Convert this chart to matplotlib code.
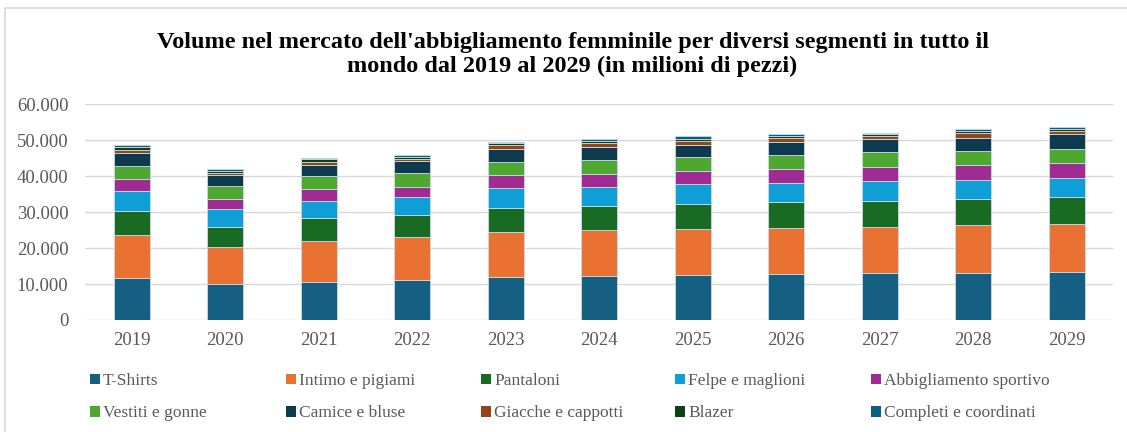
import matplotlib
matplotlib.use('Agg')
import matplotlib.pyplot as plt
import numpy as np
from matplotlib.patches import Rectangle, Patch
from matplotlib.ticker import FuncFormatter

matplotlib.rcParams['font.family'] = ['Liberation Serif', 'DejaVu Serif']

anni = ['2019', '2020', '2021', '2022', '2023', '2024', '2025', '2026', '2027', '2028', '2029']

segmenti = ['T-Shirts', 'Intimo e pigiami', 'Pantaloni', 'Felpe e maglioni', 'Abbigliamento sportivo',
            'Vestiti e gonne', 'Camice e bluse', 'Giacche e cappotti', 'Blazer', 'Completi e coordinati']

# valori in migliaia di pezzi (milioni / 1000 sull'asse)
t_shirts = [11600, 9900, 10500, 11000, 11850, 12100, 12500, 12800, 13050, 13050, 13300]
intimo = [12000, 10300, 11400, 12100, 12500, 12900, 12800, 12800, 12750, 13350, 13500]
pantaloni = [6800, 5700, 6500, 6100, 6850, 6800, 7000, 7100, 7400, 7100, 7300]
felpe = [5400, 4900, 4700, 4900, 5400, 5300, 5400, 5400, 5400, 5400, 5300]
sportivo = [3300, 2900, 3200, 2900, 3600, 3600, 3600, 3800, 3900, 4200, 4300]
vestiti = [3800, 3500, 3700, 3800, 3800, 3800, 4100, 4000, 4100, 3900, 3900]
camice = [3600, 3000, 3100, 3400, 3600, 3600, 3300, 3600, 3600, 3700, 4000]
giacche = [800, 700, 800, 600, 900, 1000, 1100, 1000, 800, 1200, 800]
blazer = [700, 600, 800, 600, 600, 600, 600, 600, 700, 600, 700]
completi = [500, 400, 300, 500, 500, 500, 700, 600, 400, 600, 500]

serie = [t_shirts, intimo, pantaloni, felpe, sportivo, vestiti, camice, giacche, blazer, completi]
colori = ['#156082', '#E97132', '#196B24', '#0F9ED5', '#A02B93',
          '#4EA72E', '#0D3A4F', '#954319', '#0F4016', '#0A5F80']

fig = plt.figure(figsize=(11.27, 4.32), dpi=100)
ax = fig.add_axes([0.0754, 0.2593, 0.9126, 0.4997])

x = np.arange(len(anni))
base = np.zeros(len(anni))
for vals, col, nome in zip(serie, colori, segmenti):
    ax.bar(x, vals, 0.385, bottom=base, color=col, edgecolor='#c9dbe6', linewidth=0.6, label=nome, zorder=3)
    base += np.array(vals)

ax.set_xlim(-0.5, len(anni) - 0.5)
ax.set_ylim(0, 60000)
ax.set_yticks(range(0, 60001, 10000))
ax.yaxis.set_major_formatter(FuncFormatter(lambda v, p: '0' if v == 0 else f'{int(v):,}'.replace(',', '.')))
ax.set_xticks(x)
ax.set_xticklabels(anni)
ax.grid(axis='y', color='#d9d9d9', linewidth=1, zorder=0)
for s in ax.spines.values():
    s.set_visible(False)
ax.tick_params(axis='both', length=0, labelsize=13.5, colors='#595959')
ax.tick_params(axis='y', pad=12)
ax.tick_params(axis='x', pad=9)

fig.text(0.508, 0.874, "Volume nel mercato dell'abbigliamento femminile per diversi segmenti in tutto il\n"
         "mondo dal 2019 al 2029 (in milioni di pezzi)", ha='center', va='center',
         fontsize=17.5, fontweight='bold', linespacing=1.2)

# legenda: 5 colonne a passo costante, 2 righe
col_x = [90, 286, 481, 675, 871]
for i, cx in enumerate(col_x):
    idx = [i, i + 5]
    leg = fig.legend([Patch(facecolor=colori[j]) for j in idx], [segmenti[j] for j in idx],
                     loc='upper left', bbox_to_anchor=(cx / 1127, 1 - 373 / 432), frameon=False,
                     fontsize=12.5, handlelength=0.55, handleheight=0.55, handletextpad=0.2,
                     labelcolor='#595959', borderaxespad=0, borderpad=0, labelspacing=0.95)

fig.patches.append(Rectangle((5 / 1127, -0.1), 1.1, 1.1 - 8 / 432, transform=fig.transFigure,
                             fill=False, edgecolor='#d9d9d9', linewidth=1.2))

plt.savefig('out.png', dpi=100)
